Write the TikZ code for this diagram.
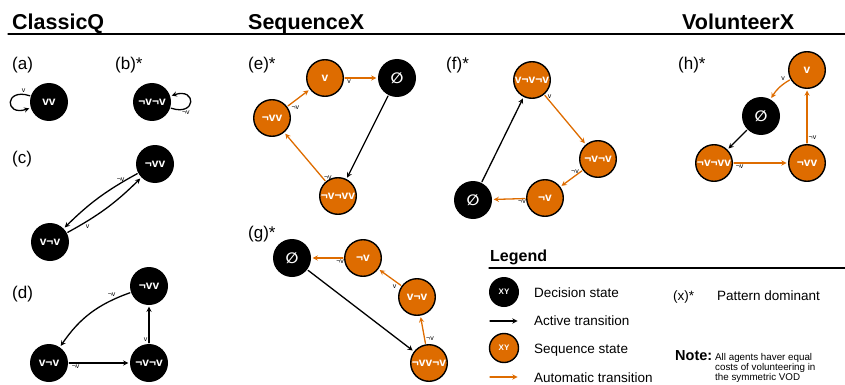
\documentclass[tikz,border=0pt]{standalone}
\usepackage{fontspec}
\setmainfont{Liberation Sans}
\newfontfamily\symfont{DejaVu Sans}
\definecolor{autoorange}{RGB}{222,108,0}
\def\es{{\symfont\fontsize{15}{15}\selectfont ∅}}
\begin{document}
\begin{tikzpicture}[x=1pt, y=-1pt, line join=round, line cap=round, >=stealth,
  dstate/.style={circle, fill=black, minimum size=38pt, inner sep=0pt, text=white, font=\bfseries\fontsize{12}{12}\selectfont},
  sstate/.style={dstate, fill=autoorange, draw=black, line width=1.4pt, minimum size=36.6pt},
  active/.style={->, line width=1.3pt, shorten >=1.5pt, shorten <=1pt},
  autotr/.style={active, draw=autoorange},
  elab/.style={font=\fontsize{7}{7}\selectfont, inner sep=1pt, text=black},
  plab/.style={font=\fontsize{17}{17}\selectfont, anchor=base west, inner sep=0pt},
  head/.style={font=\bfseries\fontsize{21.5}{22}\selectfont, anchor=base west, inner sep=0pt},
  ltext/.style={font=\fontsize{13.5}{14}\selectfont, anchor=base west, inner sep=0pt},
  ntext/.style={font=\fontsize{9.8}{10}\selectfont, anchor=base west, inner sep=0pt}]
\useasboundingbox (0,0) rectangle (845,385);
%Headers
\node[head] (hClassic) at (12,30) {ClassicQ};
\node[head] (hSequence) at (248,30) {SequenceX};
\node[head] (hVolunteer) at (682,30) {VolunteerX};
\draw[line width=1.2pt] (8,34)--(845,34);
%ClassicQ (a) (b)
\node[plab] (la) at (12,70) {(a)};
\node[plab] (lb) at (115,70) {(b)*};
\node[dstate] (aVV) at (49,102) {vv};
\node[dstate] (bNN) at (152,102) {¬v¬v};
\path (aVV) edge[active, out=162, in=198, looseness=6, min distance=9pt] node[elab, pos=.1, above]{v} (aVV);
\path (bNN) edge[active, out=-18, in=18, looseness=6, min distance=8pt] node[elab, pos=.15, below right]{¬v} (bNN);
%ClassicQ (c)
\node[plab] (lc) at (12,163) {(c)};
\node[dstate] (cNV) at (155,164) {¬vv};
\node[dstate] (cVN) at (50,242) {v¬v};
\draw[active] (cNV) to[bend right=8] node[elab, pos=.2, above]{¬v} (cVN);
\draw[active] (cVN) to[bend right=8] node[elab, pos=.2, below right]{v} (cNV);
%ClassicQ (d)
\node[plab] (ld) at (12,298) {(d)};
\node[dstate] (dNV) at (149,286) {¬vv};
\node[dstate] (dVN) at (49,363) {v¬v};
\node[dstate] (dNN) at (149,363) {¬v¬v};
\draw[active] (dNV) to[bend right=18] node[elab, pos=.15, above left]{¬v} (dVN);
\draw[active] (dVN) -- node[elab, pos=.12, below]{¬v} (dNN);
\draw[active] (dNN) -- node[elab, pos=.12, left]{v} (dNV);
%SequenceX (e)
\node[plab] (le) at (248,70) {(e)*};
\node[sstate] (eV) at (325,78) {v};
\node[dstate] (eE) at (397,78) {\es};
\node[sstate] (eNV) at (272,118) {¬vv};
\node[sstate] (eNNV) at (338,196) {¬v¬vv};
\draw[autotr] (eNV) -- node[elab, pos=.12, below right]{¬v} (eV);
\draw[autotr] (eV) -- node[elab, pos=.15, below]{v} (eE);
\draw[active] (eE) -- (eNNV);
\draw[autotr] (eNNV) -- node[elab, pos=.08, right]{¬v} (eNV);
%SequenceX (f)
\node[plab] (lf) at (446,70) {(f)*};
\node[sstate] (fVNN) at (532,80) {v¬v¬v};
\node[sstate] (fNN) at (598,159) {¬v¬v};
\node[sstate] (fN) at (545,198) {¬v};
\node[dstate] (fE) at (473,200) {\es};
\draw[autotr] (fVNN) -- node[elab, pos=.05, right]{v} (fNN);
\draw[autotr] (fNN) -- node[elab, pos=.1, left]{¬v} (fN);
\draw[autotr] (fN) -- node[elab, pos=.12, below]{¬v} (fE);
\draw[active] (fE) -- (fVNN);
%SequenceX (g)
\node[plab] (lg) at (248,238) {(g)*};
\node[dstate] (gE) at (292,258) {\es};
\node[sstate] (gN) at (363,258) {¬v};
\node[sstate] (gVN) at (417,297) {v¬v};
\node[sstate] (gNVN) at (429,363) {¬vv¬v};
\draw[active] (gE) -- (gNVN);
\draw[autotr] (gNVN) -- node[elab, pos=.2, right]{¬v} (gVN);
\draw[autotr] (gVN) -- node[elab, pos=.15, below left]{v} (gN);
\draw[autotr] (gN) -- node[elab, pos=.12, below]{¬v} (gE);
%VolunteerX (h)
\node[plab] (lh) at (678,70) {(h)*};
\node[sstate] (hV) at (807,70) {v};
\node[dstate] (hE) at (761,116) {\es};
\node[sstate] (hNNV) at (714,163) {¬v¬vv};
\node[sstate] (hNV) at (807,163) {¬vv};
\draw[autotr] (hV) to[bend right=15] node[elab, pos=.15, above left]{v} (hE);
\draw[active] (hE) -- (hNNV);
\draw[autotr] (hNNV) -- node[elab, pos=.12, below]{¬v} (hNV);
\draw[autotr] (hNV) -- node[elab, pos=.12, right]{¬v} (hV);
%Legend
\node[font=\bfseries\fontsize{16}{16}\selectfont, anchor=base west, inner sep=0pt] (lLegend) at (490,261) {Legend};
\draw[line width=1.2pt] (489,268)--(845,268);
\node[dstate, minimum size=30pt, font=\bfseries\fontsize{8}{8}\selectfont] (kDec) at (504,292) {XY};
\node[ltext] (tDec) at (534,297) {Decision state};
\coordinate (kActA) at (490,321); \coordinate (kActB) at (519,321);
\draw[active, shorten <=0pt] (kActA) -- (kActB);
\node[ltext] (tAct) at (534,325) {Active transition};
\node[sstate, minimum size=29pt, font=\bfseries\fontsize{8}{8}\selectfont] (kSeq) at (504,348) {XY};
\node[ltext] (tSeq) at (534,353) {Sequence state};
\coordinate (kAutA) at (490,377); \coordinate (kAutB) at (519,377);
\draw[autotr, shorten <=0pt] (kAutA) -- (kAutB);
\node[ltext] (tAut) at (534,382) {Automatic transition};
\node[ltext] (tStar) at (673,300) {(x)*};
\node[ltext] (tPat) at (717,300) {Pattern dominant};
\node[font=\bfseries\fontsize{14.5}{15}\selectfont, anchor=base west, inner sep=0pt] (tNote) at (675,360) {Note:};
\node[ntext] (tNote1) at (715,360) {All agents haver equal};
\node[ntext] (tNote2) at (715,370) {costs of volunteering in};
\node[ntext] (tNote3) at (715,380) {the symmetric VOD};
\end{tikzpicture}
\end{document}
